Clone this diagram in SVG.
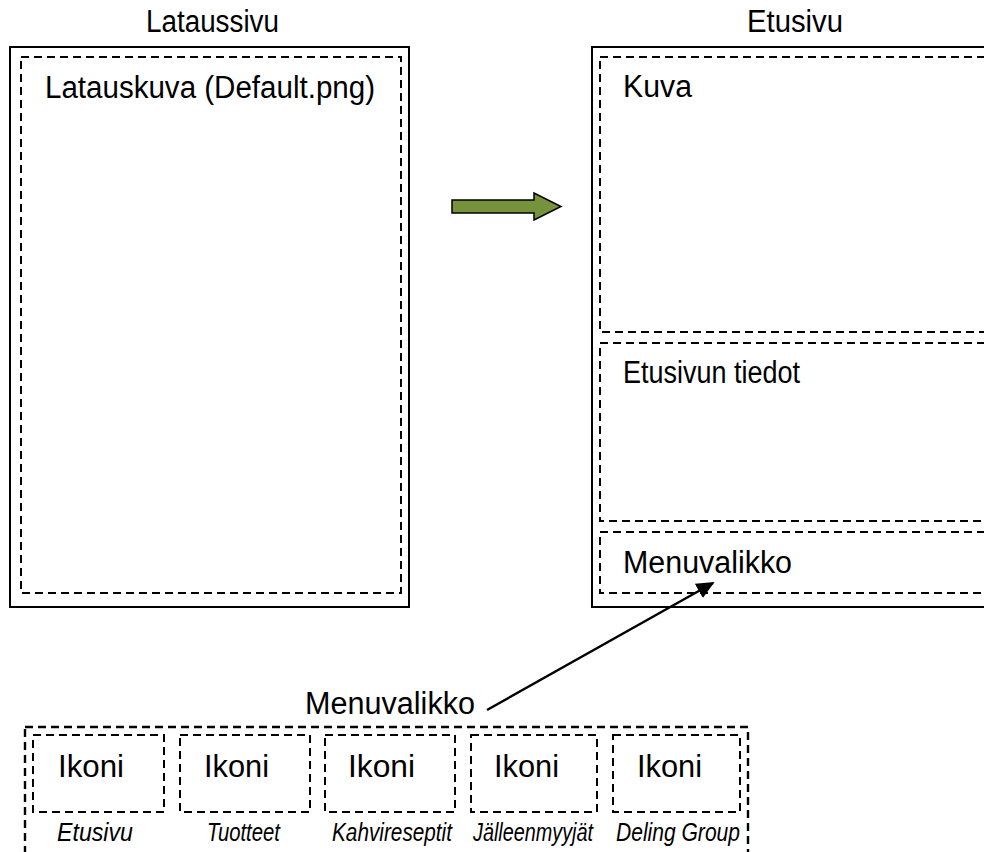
<svg xmlns="http://www.w3.org/2000/svg" width="984" height="852" viewBox="0 0 984 852">
  <style>
    .frame { fill: #ffffff; stroke: #000000; stroke-width: 2; }
    .dash { fill: none; stroke: #000000; stroke-width: 2; stroke-dasharray: 8 5; }
    .dashThick { fill: none; stroke: #000000; stroke-width: 2.4; stroke-dasharray: 8 5; }
    .t { font-family: "Liberation Sans", Arial, sans-serif; font-size: 31px; fill: #000000; }
    .it { font-family: "Liberation Sans", Arial, sans-serif; font-size: 25px; font-style: italic; fill: #000000; }
    .link { stroke: #000000; stroke-width: 2.4; fill: none; }
  </style>
  <defs>
    <marker id="headBig" viewBox="0 0 10 10" refX="9" refY="5" markerWidth="18" markerHeight="18" orient="auto" markerUnits="userSpaceOnUse">
      <path d="M0,0.5 L10,5 L0,9.5 z" fill="#000000"/>
    </marker>
  </defs>

  <rect width="984" height="852" fill="#ffffff"/>

  <!-- Loading page -->
  <g id="lataussivu">
    <text class="t" x="146" y="32" textLength="133" lengthAdjust="spacingAndGlyphs">Lataussivu</text>
    <rect class="frame" x="10" y="47" width="399" height="560"/>
    <rect class="dash" x="21" y="57" width="380" height="536"/>
    <text class="t" x="45" y="98" textLength="330" lengthAdjust="spacingAndGlyphs">Latauskuva (Default.png)</text>
  </g>

  <!-- Front page -->
  <g id="etusivu">
    <text class="t" x="747" y="32" textLength="96" lengthAdjust="spacingAndGlyphs">Etusivu</text>
    <rect class="frame" x="592" y="47" width="420" height="560"/>
    <rect class="dash" x="600" y="57" width="420" height="275"/>
    <text class="t" x="623" y="97" textLength="69" lengthAdjust="spacingAndGlyphs">Kuva</text>
    <rect class="dash" x="600" y="343" width="420" height="178"/>
    <text class="t" x="623" y="383" textLength="177" lengthAdjust="spacingAndGlyphs">Etusivun tiedot</text>
    <rect class="dash" x="600" y="532" width="420" height="61"/>
    <text class="t" x="623" y="573" textLength="169" lengthAdjust="spacingAndGlyphs">Menuvalikko</text>
  </g>

  <!-- Transition arrow -->
  <g id="siirtyma">
    <path d="M452,200 L534,200 L534,193 L561,206.5 L534,220 L534,213 L452,213 Z" fill="#76923c" stroke="#000000" stroke-width="1.5" stroke-linejoin="miter"/>
  </g>

  <!-- Menu bar -->
  <g id="menuvalikko">
    <text class="t" x="305" y="714" textLength="170" lengthAdjust="spacingAndGlyphs">Menuvalikko</text>
    <rect class="dashThick" x="25" y="727" width="723" height="140"/>
  </g>

  <g id="ikoni-etusivu">
    <rect class="dash" x="33" y="735" width="131" height="77"/>
    <text class="t" x="58" y="777" textLength="66" lengthAdjust="spacingAndGlyphs">Ikoni</text>
    <text class="it" x="57" y="841" textLength="76" lengthAdjust="spacingAndGlyphs">Etusivu</text>
  </g>
  <g id="ikoni-tuotteet">
    <rect class="dash" x="180" y="735" width="130" height="77"/>
    <text class="t" x="204" y="777" textLength="65" lengthAdjust="spacingAndGlyphs">Ikoni</text>
    <text class="it" x="207" y="841" textLength="73" lengthAdjust="spacingAndGlyphs">Tuotteet</text>
  </g>
  <g id="ikoni-kahvireseptit">
    <rect class="dash" x="325" y="735" width="130" height="77"/>
    <text class="t" x="348" y="777" textLength="67" lengthAdjust="spacingAndGlyphs">Ikoni</text>
    <text class="it" x="332" y="841" textLength="120" lengthAdjust="spacingAndGlyphs">Kahvireseptit</text>
  </g>
  <g id="ikoni-jalleenmyyjat">
    <rect class="dash" x="471" y="735" width="126" height="77"/>
    <text class="t" x="494" y="777" textLength="65" lengthAdjust="spacingAndGlyphs">Ikoni</text>
    <text class="it" x="473" y="841" textLength="120" lengthAdjust="spacingAndGlyphs">Jälleenmyyjät</text>
  </g>
  <g id="ikoni-deling">
    <rect class="dash" x="613" y="735" width="127" height="77"/>
    <text class="t" x="637" y="777" textLength="65" lengthAdjust="spacingAndGlyphs">Ikoni</text>
    <text class="it" x="616" y="841" textLength="124" lengthAdjust="spacingAndGlyphs">Deling Group</text>
  </g>

  <!-- Connectors -->
  <g id="connectors">
    <line class="link" x1="487" y1="710" x2="713" y2="583" marker-end="url(#headBig)"/>
  </g>
</svg>
